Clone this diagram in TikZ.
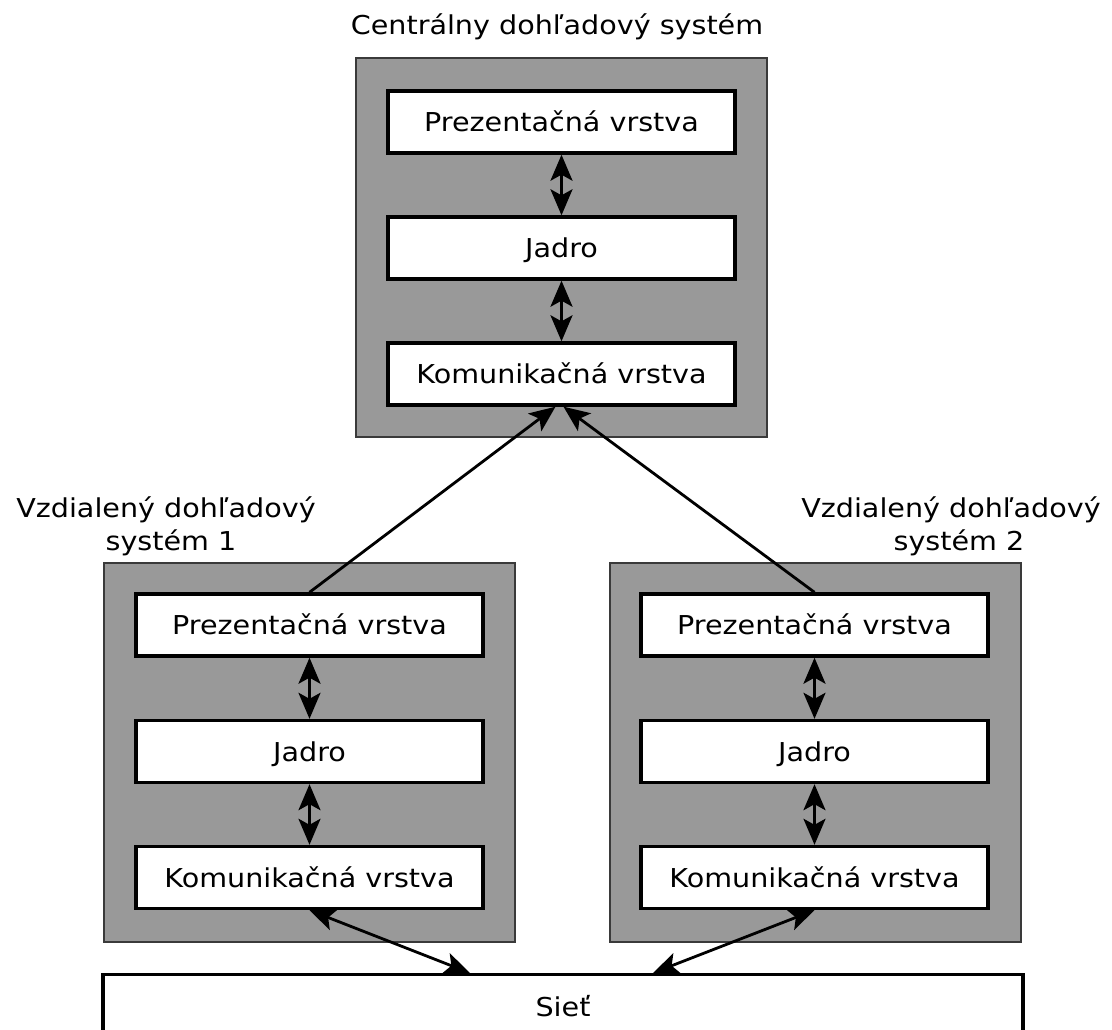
\documentclass[tikz,border=0pt]{standalone}
\usepackage{fontspec}
\setmainfont[FakeStretch=1.1]{DejaVu Sans}
\usetikzlibrary{arrows.meta,calc}
\definecolor{boxgray}{HTML}{999999}
\definecolor{boxedge}{HTML}{3A3A3A}
\tikzset{
  headtip/.tip={Stealth[length=26pt,width=22pt,inset=6pt]}
}
\begin{document}
\begin{tikzpicture}[x=1pt,y=-1pt,
  font=\fontsize{26}{33}\selectfont,
  sysbox/.style={draw=boxedge, fill=boxgray, line width=1.6pt,
    minimum width=411pt, minimum height=379pt, inner sep=0pt},
  layer/.style={draw=black, fill=white, line width=3.4pt,
    minimum width=347pt, minimum height=62pt, inner sep=0pt,
    text height=19pt, text depth=0pt},
  netbox/.style={draw=black, fill=white, line width=3.4pt,
    minimum width=920pt, minimum height=64pt, inner sep=0pt,
    text height=19pt, text depth=0pt},
  lbl/.style={inner sep=0pt, align=center},
  conn/.style={line width=2.8pt, -headtip},
  biconn/.style={line width=2.8pt, headtip-headtip}
]
\useasboundingbox (0,0) rectangle (1112,1030);

% central system
\node[sysbox] (cS) at (561.5,247.5) {};
\node[layer] (cP) at (561.5,122) {Prezentačná vrstva};
\node[layer] (cJ) at (561.5,248) {Jadro};
\node[layer] (cK) at (561.5,374) {Komunikačná vrstva};
\node[lbl, anchor=base] (cT) at (557,35) {Centrálny dohľadový systém};

% remote system 1
\node[sysbox] (lS) at (309.5,752.5) {};
\node[layer] (lP) at (309.5,625) {Prezentačná vrstva};
\node[layer] (lJ) at (309.5,751.5) {Jadro};
\node[layer] (lK) at (309.5,877.5) {Komunikačná vrstva};
\node[lbl, anchor=base] (lT1) at (166,517) {Vzdialený dohľadový};
\node[lbl, anchor=base] (lT2) at (171,550) {systém 1};

% remote system 2
\node[sysbox] (rS) at (815.5,752.5) {};
\node[layer] (rP) at (814.5,625) {Prezentačná vrstva};
\node[layer] (rJ) at (814.5,751.5) {Jadro};
\node[layer] (rK) at (814.5,877.5) {Komunikačná vrstva};
\node[lbl, anchor=base] (rT1) at (951,517) {Vzdialený dohľadový};
\node[lbl, anchor=base] (rT2) at (959,550) {systém 2};

% network
\node[netbox, anchor=north] (net) at (563,973) {Sieť};

% inner arrows
\draw[biconn] (cP) -- (cJ);
\draw[biconn] (cJ) -- (cK);
\draw[biconn] (lP) -- (lJ);
\draw[biconn] (lJ) -- (lK);
\draw[biconn] (rP) -- (rJ);
\draw[biconn] (rJ) -- (rK);

% to central
\draw[conn] (lP.north) -- ([xshift=-6pt]cK.south);
\draw[conn] (rP.north) -- ([xshift=2pt]cK.south);

% to network
\draw[biconn] (lK.south) -- ([xshift=-93pt]net.north);
\draw[biconn] (rK.south) -- ([xshift=90pt]net.north);
\end{tikzpicture}
\end{document}
